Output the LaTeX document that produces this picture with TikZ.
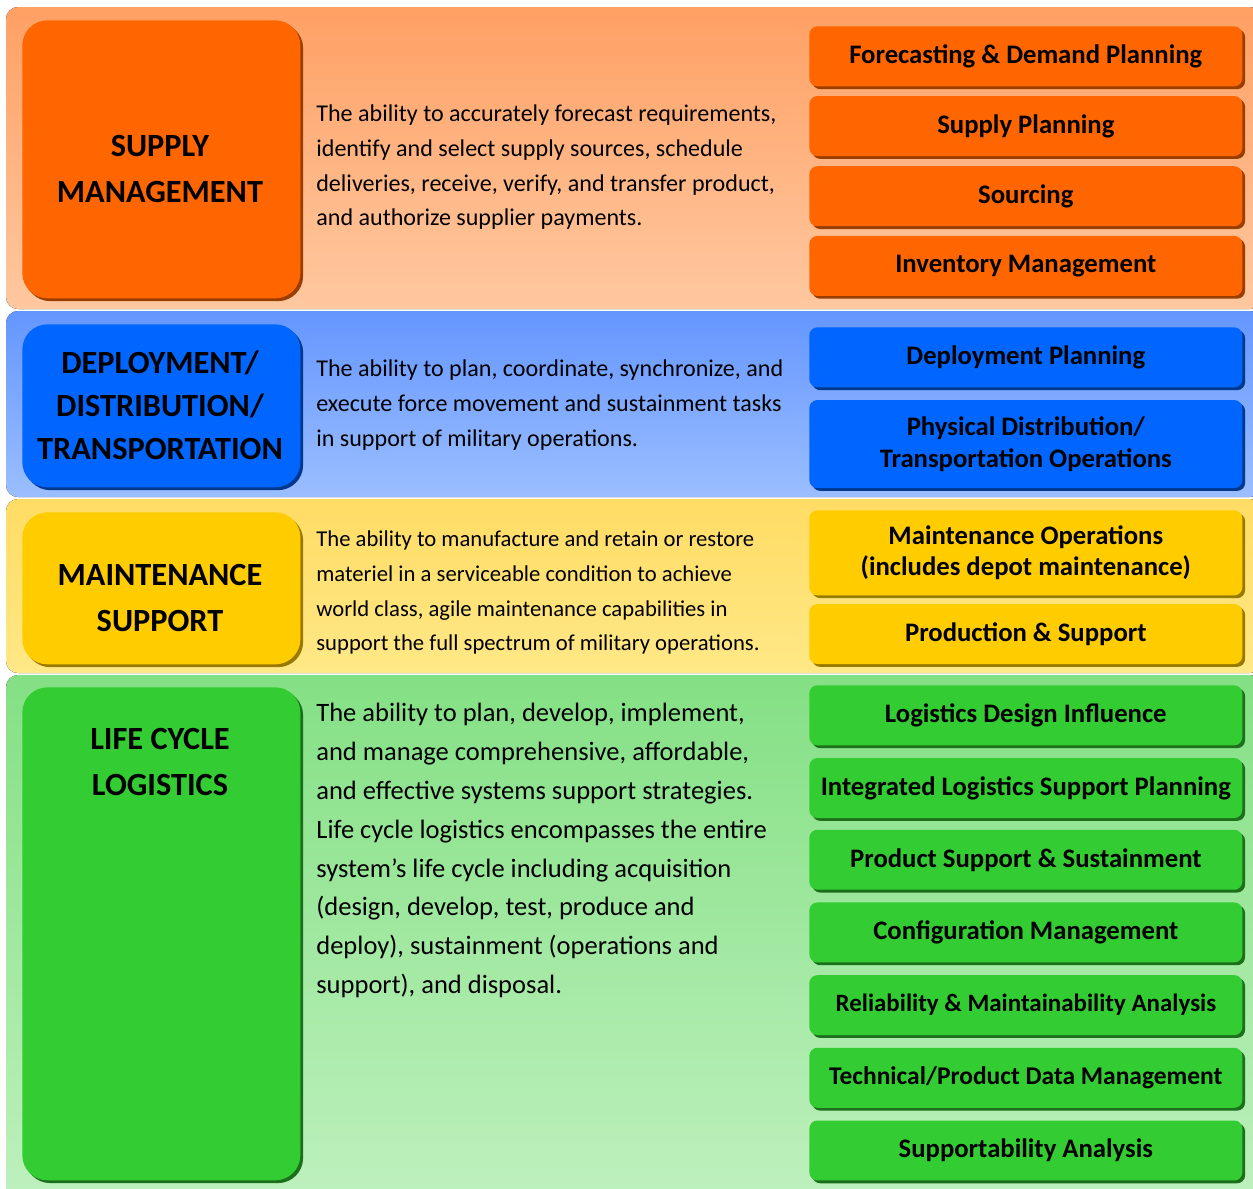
\documentclass[tikz,border=0pt]{standalone}
\usepackage{fontspec}
\setmainfont{Carlito}
\usetikzlibrary{positioning,shadows}

\definecolor{supplyc}{RGB}{255,102,0}
\definecolor{deployc}{RGB}{0,102,255}
\definecolor{maintc}{RGB}{255,204,0}
\definecolor{lifec}{RGB}{51,204,51}

\begin{document}
\begin{tikzpicture}[x=0.02cm,y=-0.02cm,
  band/.style = {rounded corners=0.24cm},
  tbox/.style = {rounded corners=0.5cm, anchor=north west, inner sep=0, minimum width=5.56cm},
  head/.style = {font=\bfseries\fontsize{18.4}{26}\selectfont, align=center, inner sep=0},
  desc/.style = {anchor=north west, inner sep=0, align=left, font=\fontsize{13.7}{19.9}\selectfont},
  item/.style = {rounded corners=0.16cm, anchor=north west, minimum width=8.66cm, minimum height=1.2cm,
                 inner sep=0, align=center, font=\bfseries\fontsize{15.2}{18}\selectfont},
  shade/.style = {drop shadow={shadow xshift=1.6pt, shadow yshift=-1.6pt, opacity=1, fill=#1}}]
\useasboundingbox[fill=white] (0,0) rectangle (1253,1188);

% bands
\fill[band, top color={rgb,255:red,255;green,160;blue,100}, bottom color={rgb,255:red,255;green,200;blue,160}]
  (6,7) rectangle (1262,309);
\fill[band, top color={rgb,255:red,100;green,150;blue,255}, bottom color={rgb,255:red,155;green,190;blue,255}]
  (6,311) rectangle (1262,497);
\fill[band, top color={rgb,255:red,255;green,220;blue,100}, bottom color={rgb,255:red,255;green,232;blue,135}]
  (6,499) rectangle (1262,673);
\fill[band, top color={rgb,255:red,132;green,224;blue,132}, bottom color={rgb,255:red,190;green,240;blue,190}]
  (6,675) rectangle (1262,1200);

% supply management
\node[tbox, fill=supplyc, shade=supplyc!60!black, minimum height=5.56cm] (sm) at (22,20) {};
\node[head] (smt) at (160,169) {SUPPLY\\MANAGEMENT};
\node[desc] (smd) at (316,104) {The ability to accurately forecast requirements,\\identify and select supply sources, schedule\\deliveries, receive, verify, and transfer product,\\and authorize supplier payments.};
\node[item, fill=supplyc, shade=supplyc!60!black] (fdp) at (809,26) {Forecasting \& Demand Planning};
\node[item, fill=supplyc, shade=supplyc!60!black, below=0.18cm of fdp] (sp) {Supply Planning};
\node[item, fill=supplyc, shade=supplyc!60!black, below=0.19cm of sp] (src) {Sourcing};
\node[item, fill=supplyc, shade=supplyc!60!black, below=0.18cm of src] (inv) {Inventory Management};

% deployment / distribution / transportation
\node[tbox, fill=deployc, shade=deployc!55!black, minimum height=3.26cm] (dd) at (22,324) {};
\node[head, font=\bfseries\fontsize{18.4}{24.4}\selectfont] (ddt) at (160,405) {DEPLOYMENT/\\DISTRIBUTION/\\TRANSPORTATION};
\node[desc] (ddd) at (316,359) {The ability to plan, coordinate, synchronize, and\\execute force movement and sustainment tasks\\in support of military operations.};
\node[item, fill=deployc, shade=deployc!55!black] (dpl) at (809,327) {Deployment Planning};
\node[item, fill=deployc, shade=deployc!55!black, minimum height=1.76cm, below=0.24cm of dpl] (pdt) {Physical Distribution/\\Transportation Operations};

% maintenance support
\node[tbox, fill=maintc, shade=maintc!60!black, minimum height=3.04cm] (ms) at (22,512) {};
\node[head, font=\bfseries\fontsize{18.4}{26.6}\selectfont] (mst) at (160,598) {MAINTENANCE\\SUPPORT};
\node[desc, font=\fontsize{12.9}{19.9}\selectfont] (msd) at (316,530) {The ability to manufacture and retain or restore\\materiel in a serviceable condition to achieve\\world class, agile maintenance capabilities in\\support the full spectrum of military operations.};
\node[item, fill=maintc, shade=maintc!60!black, minimum height=1.7cm] (mop) at (809,510) {Maintenance Operations\\(includes depot maintenance)};
\node[item, fill=maintc, shade=maintc!60!black, below=0.16cm of mop] (prs) {Production \& Support};

% life cycle logistics
\node[tbox, fill=lifec, shade=lifec!55!black, minimum height=9.86cm] (lcl) at (22,687) {};
\node[head, font=\bfseries\fontsize{18.4}{26.6}\selectfont] (lclt) at (160,762) {LIFE CYCLE\\LOGISTICS};
\node[desc, font=\fontsize{15.1}{22.1}\selectfont] (lcld) at (316,703) {The ability to plan, develop, implement,\\and manage comprehensive, affordable,\\and effective systems support strategies.\\Life cycle logistics encompasses the entire\\system’s life cycle including acquisition\\(design, develop, test, produce and\\deploy), sustainment (operations and\\support), and disposal.};
\node[item, fill=lifec, shade=lifec!55!black] (ldi) at (809,685) {Logistics Design Influence};
\node[item, fill=lifec, shade=lifec!55!black, below=0.24cm of ldi] (ilsp) {Integrated Logistics Support Planning};
\node[item, fill=lifec, shade=lifec!55!black, below=0.22cm of ilsp] (pss) {Product Support \& Sustainment};
\node[item, fill=lifec, shade=lifec!55!black, below=0.24cm of pss] (cm) {Configuration Management};
\node[item, fill=lifec, shade=lifec!55!black, below=0.24cm of cm, font=\bfseries\fontsize{14.2}{18}\selectfont] (rma) {Reliability \& Maintainability Analysis};
\node[item, fill=lifec, shade=lifec!55!black, below=0.24cm of rma, font=\bfseries\fontsize{14.5}{18}\selectfont] (tpdm) {Technical/Product Data Management};
\node[item, fill=lifec, shade=lifec!55!black, below=0.24cm of tpdm] (sa) {Supportability Analysis};
\end{tikzpicture}
\end{document}
